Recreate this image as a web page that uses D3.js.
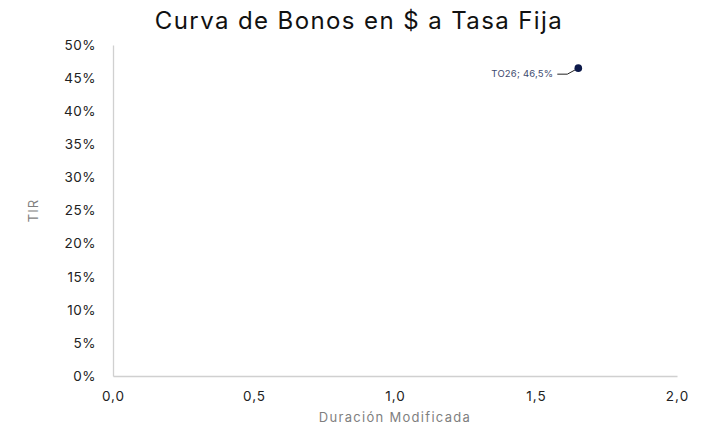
<!DOCTYPE html>
<html>
<head>
<meta charset="utf-8">
<script src="https://cdn.jsdelivr.net/npm/d3@7"></script>
<style>
  html, body { margin: 0; padding: 0; background: #fff; }
  svg { display: block; font-family: Inter, "Noto Sans", sans-serif; }
</style>
</head>
<body>
<svg id="chart" width="707" height="425"></svg>
<script>
const title = "Curva de Bonos en $ a Tasa Fija";
const xTitle = "Duración Modificada";
const yTitle = "TIR";
const bonds = ["TO26"];
const duration = [1.65];
const tir = [0.465];
const xTicks = [0, 0.5, 1, 1.5, 2];
const yTicks = [0, 0.05, 0.10, 0.15, 0.20, 0.25, 0.30, 0.35, 0.40, 0.45, 0.50];

const svg = d3.select("#chart");
const margin = { left: 113, right: 30, top: 45, bottom: 49 };
const W = 707, H = 425;

const x = d3.scaleLinear().domain([0, 2]).range([margin.left, W - margin.right]);
const y = d3.scaleLinear().domain([0, 0.5]).range([H - margin.bottom, margin.top]);

svg.append("text")
  .attr("x", 359).attr("y", 29)
  .attr("text-anchor", "middle")
  .attr("font-size", 24)
  .attr("letter-spacing", 1.4)
  .attr("fill", "#111")
  .text(title);

const fmtX = d => d3.format(".1f")(d).replace(".", ",");
const fmtY = d => Math.round(d * 100) + "%";

const xAxis = svg.append("g")
  .attr("transform", `translate(0,${y(0)})`)
  .call(d3.axisBottom(x).tickValues(xTicks).tickFormat(fmtX).tickSize(0).tickPadding(15));
xAxis.select(".domain").attr("stroke", "#d0d0d0").attr("stroke-width", 1.3);
xAxis.selectAll("text").attr("font-size", 13.5).attr("letter-spacing", 1).attr("fill", "#222").attr("font-family", "Inter, sans-serif");

const yAxis = svg.append("g")
  .attr("transform", `translate(${x(0)},0)`)
  .call(d3.axisLeft(y).tickValues(yTicks).tickFormat(fmtY).tickSize(0).tickPadding(17));
yAxis.select(".domain").attr("stroke", "#d0d0d0").attr("stroke-width", 1.3);
yAxis.selectAll("text").attr("font-size", 13.5).attr("letter-spacing", 0.5).attr("fill", "#222").attr("font-family", "Inter, sans-serif");

svg.append("text")
  .attr("x", (x(0) + x(2)) / 2).attr("y", 422)
  .attr("text-anchor", "middle")
  .attr("font-size", 13)
  .attr("fill", "#7f7f7f")
  .attr("letter-spacing", 1.3)
  .text(xTitle);

svg.append("text")
  .attr("transform", `translate(38,${(y(0) + y(0.5)) / 2}) rotate(-90)`)
  .attr("text-anchor", "middle")
  .attr("font-size", 13)
  .attr("letter-spacing", 1)
  .attr("fill", "#7f7f7f")
  .text(yTitle);

const data = bonds.map((b, i) => ({ name: b, d: duration[i], t: tir[i] }));

const g = svg.append("g");
data.forEach(p => {
  const px = x(p.d), py = y(p.t);
  g.append("path")
    .attr("d", `M${px - 21},${py + 6}L${px - 11},${py + 6}L${px},${py}`)
    .attr("fill", "none").attr("stroke", "#222").attr("stroke-width", 1);
  g.append("circle")
    .attr("cx", px).attr("cy", py).attr("r", 3.8)
    .attr("fill", "#0d1a4a");
  g.append("text")
    .attr("x", px - 25).attr("y", py + 9)
    .attr("text-anchor", "end")
    .attr("font-size", 9.5)
    .attr("letter-spacing", 0.2)
    .attr("fill", "#404a6e")
    .text(`${p.name}; ${(p.t * 100).toFixed(1).replace(".", ",")}%`);
});
</script>
</body>
</html>
